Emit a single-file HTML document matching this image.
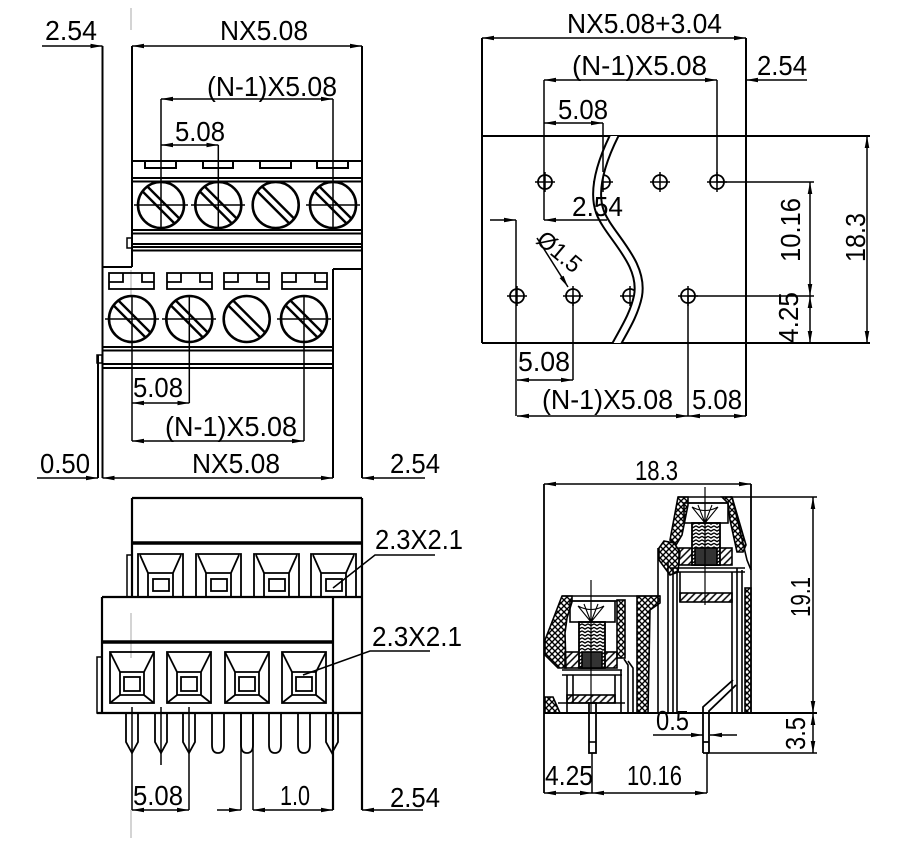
<!DOCTYPE html>
<html><head><meta charset="utf-8"><style>
html,body{margin:0;padding:0;background:#fff;}
svg{display:block;}
text{font-family:"Liberation Sans",sans-serif;font-size:28px;fill:#000;}
</style></head><body>
<svg width="907" height="850" viewBox="0 0 907 850" xmlns="http://www.w3.org/2000/svg">
<defs>
<marker id="a" markerWidth="12" markerHeight="6" refX="12" refY="3" orient="auto-start-reverse" markerUnits="userSpaceOnUse"><path d="M0,0.7 L12,3 L0,5.3 z" fill="#000"/></marker>
<pattern id="xh" width="6" height="6" patternUnits="userSpaceOnUse"><path d="M-1,-1 L7,7 M7,-1 L-1,7" stroke="#000" stroke-width="1.4"/></pattern>
<pattern id="hh" width="5" height="5" patternUnits="userSpaceOnUse" patternTransform="rotate(45)"><line x1="1" y1="0" x2="1" y2="5" stroke="#000" stroke-width="1.5"/></pattern>
<pattern id="th" width="6" height="3.5" patternUnits="userSpaceOnUse"><path d="M0,0.8 L3,2.6 L6,0.8" stroke="#000" stroke-width="1.4" fill="none"/></pattern>
<g id="scr"><circle r="23" fill="none" stroke="#000" stroke-width="2.6"/><path d="M-13.6,-18.5 L18.5,13.6 M-18.5,-13.6 L13.6,18.5" stroke="#000" stroke-width="2.4"/></g>
<g id="hole"><circle r="7" fill="none" stroke="#000" stroke-width="1.8"/><path d="M-10,0 H10 M0,-10 V10" stroke="#000" stroke-width="1.5"/></g>
<g id="slotL" fill="none" stroke="#000" stroke-width="1.8"><rect x="-22.5" y="0" width="45" height="16"/><path d="M-22.5,9 H-8.5 V0 M22.5,9 H10.5 V0"/></g>
<g id="cu" fill="none" stroke="#000" stroke-width="1.8"><path d="M0,43 V0 H45 V43 M2,1 L10,19 H35 L43,1 M10,19 V43 M35,19 V43"/><rect x="15" y="25" width="16" height="12"/></g>
<g id="cl" fill="none" stroke="#000" stroke-width="1.8"><rect x="0" y="0" width="44" height="51"/><path d="M0,0 L10,20 H34 L44,0 M0,51 L10,43 H34 L44,51 M10,20 V43 M34,20 V43"/><rect x="14" y="25" width="16" height="14"/></g>
<path id="pv" d="M-6,0 V29 L0,40 L6,29 V0" fill="none" stroke="#000" stroke-width="1.8"/>
<path id="pu" d="M-6,0 V32 Q-6,40 0,40 Q6,40 6,32 V0" fill="none" stroke="#000" stroke-width="1.8"/>
<clipPath id="rc"><rect x="482" y="136" width="264" height="207"/></clipPath>
</defs>

<!-- faint center lines -->
<g stroke="#b8b8b8" stroke-width="1.2">
<path d="M131,8 V30 M131,270 V296 M131,613 V658 M131,810 V838"/>
</g>

<!-- ================= TOP LEFT ================= -->
<g stroke="#000" stroke-width="2" fill="none">
<path d="M102.5,46 V478 M132,46 V267 M362,46 V478 M102.5,267 H132 M333,269 H362 M333,269 V478"/>
<path d="M132,161 H362"/>
<path d="M145,161 V168 H176 V161 M203,161 V168 H233 V161 M260,161 V168 H291 V161 M317,161 V168 H348 V161"/>
<path d="M132,178 H362 M132,181.5 H362"/>
<path d="M132,230 H362 M132,233.5 H362 M132,244 H362 M132,247 H362 M132,250.5 H362"/>
<rect x="127" y="238" width="5" height="10" stroke-width="1.5"/>
<path d="M102.5,347 H333 M102.5,350.5 H333 M102.5,364 H333 M102.5,368 H333"/>
<path d="M98,355 V478"/>
<rect x="97" y="355" width="5" height="8" stroke-width="1.5"/>
</g>
<use href="#scr" x="161" y="205"/><use href="#scr" x="218.3" y="205"/><use href="#scr" x="275.7" y="205"/><use href="#scr" x="333" y="205"/>
<use href="#slotL" x="131.5" y="273"/><use href="#slotL" x="189.5" y="273"/><use href="#slotL" x="246.5" y="273"/><use href="#slotL" x="304.5" y="273"/>
<use href="#scr" x="132" y="319"/><use href="#scr" x="189.3" y="319"/><use href="#scr" x="246.7" y="319"/><use href="#scr" x="304" y="319"/>
<g stroke="#000" stroke-width="1.5" fill="none">
<path d="M134,205 H188 M191,205 H245 M306,205 H360"/>
<path d="M161,99 V230 M218.3,145 V230 M333,99 V230"/>
<path d="M105,319 H159 M162,319 H216 M277,319 H331"/>
<path d="M132,296 V441 M189.3,296 V403 M304,296 V441"/>
<path d="M42,46 H102.5" marker-end="url(#a)"/>
<path d="M132,46 H362" marker-start="url(#a)" marker-end="url(#a)"/>
<path d="M161,99 H333" marker-start="url(#a)" marker-end="url(#a)"/>
<path d="M161,145 H218.3" marker-start="url(#a)" marker-end="url(#a)"/>
<path d="M132,403 H189.3" marker-start="url(#a)" marker-end="url(#a)"/>
<path d="M132,441 H304" marker-start="url(#a)" marker-end="url(#a)"/>
<path d="M102.5,478 H333" marker-start="url(#a)" marker-end="url(#a)"/>
<path d="M37,478 H98" marker-end="url(#a)"/>
<path d="M425,478 H362" marker-end="url(#a)"/>
</g>
<text x="45" y="40" textLength="52" lengthAdjust="spacingAndGlyphs">2.54</text>
<text x="220" y="40" textLength="88" lengthAdjust="spacingAndGlyphs">NX5.08</text>
<text x="207" y="96" textLength="130" lengthAdjust="spacingAndGlyphs">(N-1)X5.08</text>
<text x="175" y="141" textLength="50" lengthAdjust="spacingAndGlyphs">5.08</text>
<text x="133" y="397" textLength="50" lengthAdjust="spacingAndGlyphs">5.08</text>
<text x="165" y="436" textLength="132" lengthAdjust="spacingAndGlyphs">(N-1)X5.08</text>
<text x="192" y="473" textLength="88" lengthAdjust="spacingAndGlyphs">NX5.08</text>
<text x="40" y="473" textLength="50" lengthAdjust="spacingAndGlyphs">0.50</text>
<text x="390" y="473" textLength="50" lengthAdjust="spacingAndGlyphs">2.54</text>

<!-- ================= TOP RIGHT ================= -->
<g stroke="#000" stroke-width="2" fill="none">
<path d="M482,38 V343 M746,38 V416 M482,136 H870 M482,343 H870"/>
</g>
<use href="#hole" x="545" y="182"/><use href="#hole" x="603" y="182"/><use href="#hole" x="660" y="182"/><use href="#hole" x="717" y="182"/>
<use href="#hole" x="517" y="296"/><use href="#hole" x="573" y="296"/><use href="#hole" x="630" y="296"/><use href="#hole" x="688" y="296"/>
<g clip-path="url(#rc)">
<path d="M615,134 C602,160 592,190 600,212 C609,236 644,262 638,296 C634,315 624,330 616,345" fill="none" stroke="#000" stroke-width="10"/>
<path d="M615,134 C602,160 592,190 600,212 C609,236 644,262 638,296 C634,315 624,330 616,345" fill="none" stroke="#fff" stroke-width="6"/>
</g>
<g stroke="#000" stroke-width="1.5" fill="none">
<path d="M544,80 V220 M717,80 V182 M603,123 V172 M516,220 V416 M573,296 V380 M688,296 V416"/>
<path d="M717,182 H814 M688,296 H814"/>
<path d="M482,38 H746" marker-start="url(#a)" marker-end="url(#a)"/>
<path d="M544,80 H717" marker-start="url(#a)" marker-end="url(#a)"/>
<path d="M807,80 H746" marker-end="url(#a)"/>
<path d="M544,123 H603" marker-start="url(#a)" marker-end="url(#a)"/>
<path d="M490,220 H516" marker-end="url(#a)"/>
<path d="M607,220 H544" marker-end="url(#a)"/>
<path d="M810,182 V296" marker-start="url(#a)" marker-end="url(#a)"/>
<path d="M810,296 V343" marker-start="url(#a)" marker-end="url(#a)"/>
<path d="M867,136 V343" marker-start="url(#a)" marker-end="url(#a)"/>
<path d="M517,380 H573" marker-start="url(#a)" marker-end="url(#a)"/>
<path d="M517,416 H688" marker-start="url(#a)" marker-end="url(#a)"/>
<path d="M688,416 H746" marker-start="url(#a)" marker-end="url(#a)"/>
<path d="M537,238 L568,287" marker-end="url(#a)"/>
</g>
<text x="567" y="33" textLength="155" lengthAdjust="spacingAndGlyphs">NX5.08+3.04</text>
<text x="572" y="75" textLength="135" lengthAdjust="spacingAndGlyphs">(N-1)X5.08</text>
<text x="757" y="75" textLength="50" lengthAdjust="spacingAndGlyphs">2.54</text>
<text x="558" y="119" textLength="50" lengthAdjust="spacingAndGlyphs">5.08</text>
<text x="572" y="216" textLength="51" lengthAdjust="spacingAndGlyphs">2.54</text>
<text transform="translate(535,242) rotate(40)" style="font-size:24px" textLength="50" lengthAdjust="spacingAndGlyphs">Ø1.5</text>
<text transform="translate(800,262) rotate(-90)" textLength="64" lengthAdjust="spacingAndGlyphs">10.16</text>
<text transform="translate(865,262) rotate(-90)" textLength="49" lengthAdjust="spacingAndGlyphs">18.3</text>
<text transform="translate(798,343) rotate(-90)" textLength="51" lengthAdjust="spacingAndGlyphs">4.25</text>
<text x="518" y="371" textLength="52" lengthAdjust="spacingAndGlyphs">5.08</text>
<text x="542" y="409" textLength="131" lengthAdjust="spacingAndGlyphs">(N-1)X5.08</text>
<text x="692" y="409" textLength="50" lengthAdjust="spacingAndGlyphs">5.08</text>

<!-- ================= BOTTOM LEFT ================= -->
<g stroke="#000" stroke-width="2.2" fill="none">
<path d="M132,498 H362 M132,498 V597 M362,498 V810"/>
<path d="M132,543 H362" stroke-width="3.5"/>
<rect x="127" y="555" width="5" height="42" stroke-width="1.5"/>
<path d="M102,597 H362 M102,597 V713 M333,597 V810"/>
<path d="M102,642 H333" stroke-width="3.5"/>
<rect x="97" y="657" width="5" height="56" stroke-width="1.5"/>
<path d="M97,713 H362"/>
</g>
<use href="#cu" x="138" y="554"/><use href="#cu" x="196" y="554"/><use href="#cu" x="254" y="554"/><use href="#cu" x="311" y="554"/>
<use href="#cl" x="110" y="652"/><use href="#cl" x="167" y="652"/><use href="#cl" x="225" y="652"/><use href="#cl" x="282" y="652"/>
<use href="#pv" x="132" y="713"/><use href="#pv" x="161" y="713"/><use href="#pv" x="189" y="713"/><use href="#pu" x="218" y="713"/>
<use href="#pu" x="247" y="713"/><use href="#pu" x="275" y="713"/><use href="#pu" x="304" y="713"/><use href="#pv" x="332" y="713"/>
<g stroke="#000" stroke-width="1.5" fill="none">
<path d="M132,707 V810 M161,707 V765 M189,707 V810 M241,713 V810 M253,713 V810"/>
<path d="M333,588 L375,555 H435 M303,675 L370,651 H430"/>
<path d="M132,810 H189" marker-start="url(#a)" marker-end="url(#a)"/>
<path d="M217,810 H241" marker-end="url(#a)"/>
<path d="M253,810 H333" marker-start="url(#a)" marker-end="url(#a)"/>
<path d="M423,810 H362" marker-end="url(#a)"/>
</g>
<text x="375" y="549" textLength="88" lengthAdjust="spacingAndGlyphs">2.3X2.1</text>
<text x="372" y="646" textLength="90" lengthAdjust="spacingAndGlyphs">2.3X2.1</text>
<text x="133" y="805" textLength="50" lengthAdjust="spacingAndGlyphs">5.08</text>
<text x="280" y="805" textLength="30" lengthAdjust="spacingAndGlyphs">1.0</text>
<text x="390" y="807" textLength="50" lengthAdjust="spacingAndGlyphs">2.54</text>

<!-- ================= BOTTOM RIGHT ================= -->
<!-- lower-left module -->
<g stroke="#000" stroke-width="1.6">
<polygon points="562,596 572,596 572,602 567,618 565,633 566,668 558,668 545,655 545,640 552,622" fill="url(#xh)"/>
<polygon points="545,697 553,697 560,713 545,713" fill="url(#xh)"/>
<rect x="617" y="600" width="8" height="58" fill="url(#xh)"/>
<polygon points="637,596 660,596 660,603 650,610 648,713 637,713" fill="url(#xh)"/>
<rect x="565" y="652" width="52" height="16" fill="url(#hh)"/>
<rect x="579" y="622" width="26" height="46" fill="#fff"/>
<rect x="579" y="622" width="26" height="46" fill="url(#th)"/>
<rect x="582" y="652" width="20" height="16" fill="#333"/>
<rect x="567" y="695" width="48" height="8" fill="url(#hh)"/>
</g>
<g stroke="#000" stroke-width="1.6" fill="none">
<path d="M562,596 H660 M572,601 H617"/>
<rect x="570" y="601" width="45" height="21"/>
<path d="M591,622 L578,606 M591,622 L584,604 M591,622 V603 M591,622 L598,604 M591,622 L604,606 M578,606 Q591,613 604,606" stroke-width="1.1"/>
<path d="M562,670 H622 M562,675 H622"/>
<path d="M567,675 V713 M573,675 V703 M615,675 V703 M621,670 V713"/>
<path d="M558,703 H625"/>
<path d="M628,713 V665 L624,659 M633,713 V668 L628,661"/>
<path d="M591,580 V713" stroke-width="1.2"/>
</g>
<!-- upper-right module -->
<g stroke="#000" stroke-width="1.6">
<polygon points="678,497 688,497 688,505 682,535 676,545 670,540" fill="url(#xh)"/>
<polygon points="664,541 674,543 680,552 678,572 670,575 659,560 659,548" fill="url(#xh)"/>
<polygon points="722,497 732,497 746,545 743,552 737,552 730,520 728,503" fill="url(#xh)"/>
<rect x="745" y="588" width="6" height="125" fill="url(#xh)"/>
<rect x="679" y="548" width="53" height="17" fill="url(#hh)"/>
<rect x="692" y="523" width="28" height="42" fill="#fff"/>
<rect x="692" y="523" width="28" height="42" fill="url(#th)"/>
<rect x="695" y="548" width="22" height="17" fill="#333"/>
<rect x="680" y="593" width="52" height="9" fill="url(#hh)"/>
</g>
<g stroke="#000" stroke-width="1.6" fill="none">
<path d="M678,497 H732 M688,503 H728"/>
<rect x="684" y="503" width="44" height="20"/>
<path d="M705,523 L692,507 M705,523 L698,505 M705,523 V504 M705,523 L712,505 M705,523 L718,507 M692,507 Q705,514 718,507" stroke-width="1.1"/>
<path d="M670,568 H745 M675,572 H745"/>
<path d="M680,572 V602 M732,572 V713"/>
<path d="M658,548 V713 M668,562 V713 M673,568 V713 M677,572 V713"/>
<path d="M737,568 V713 M742,570 V713"/>
<path d="M732,497 L747,560 L751,570 V713"/>
<path d="M705,487 V605" stroke-width="1.2"/>
<rect x="589" y="703" width="7" height="50" stroke-width="1.8"/>
<path d="M589,742 H596"/>
<path d="M703,753 V707 L733,680 M709,753 V711 L736,685 M703,753 H709 M703,742 H709" stroke-width="1.8"/>
</g>
<!-- dims bottom right -->
<g stroke="#000" stroke-width="1.5" fill="none">
<path d="M544,484 V793 M751,484 V570" stroke-width="1.8"/>
<path d="M730,497 H817 M707,753 H817 M592,753 V793 M707,753 V793"/>
<path d="M544,713 H817" stroke-width="2"/>
<path d="M544,484 H751" marker-start="url(#a)" marker-end="url(#a)"/>
<path d="M813,497 V713" marker-start="url(#a)" marker-end="url(#a)"/>
<path d="M813,713 V753" marker-start="url(#a)" marker-end="url(#a)"/>
<path d="M544,793 H592" marker-start="url(#a)" marker-end="url(#a)"/>
<path d="M592,793 H707" marker-start="url(#a)" marker-end="url(#a)"/>
<path d="M653,735 H703" marker-end="url(#a)"/>
<path d="M737,735 H710" marker-end="url(#a)"/>
</g>
<text x="635" y="480" textLength="43" lengthAdjust="spacingAndGlyphs">18.3</text>
<text transform="translate(810,617) rotate(-90)" textLength="40" lengthAdjust="spacingAndGlyphs">19.1</text>
<text x="656" y="730" textLength="33" lengthAdjust="spacingAndGlyphs">0.5</text>
<text transform="translate(805,750) rotate(-90)" textLength="33" lengthAdjust="spacingAndGlyphs">3.5</text>
<text x="545" y="785" textLength="48" lengthAdjust="spacingAndGlyphs">4.25</text>
<text x="627" y="785" textLength="55" lengthAdjust="spacingAndGlyphs">10.16</text>
</svg>
</body></html>
